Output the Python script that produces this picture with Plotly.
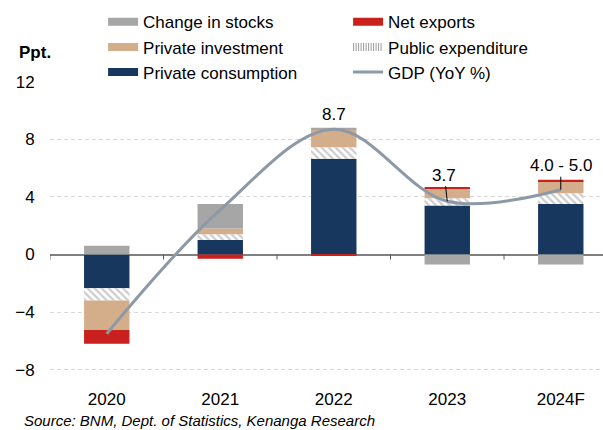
import plotly.graph_objects as go

# contributions to GDP growth, percentage points
years = ["2020", "2021", "2022", "2023", "2024F"]
private_consumption = [-2.35, 1.0, 6.65, 3.4, 3.5]
public_expenditure = [-0.85, 0.4, 0.8, 0.5, 0.75]
private_investment = [-2.05, 0.4, 1.25, 0.65, 0.85]
net_exports = [-0.95, -0.3, -0.05, 0.1, 0.1]
change_in_stocks = [0.6, 1.7, 0.1, -0.7, -0.7]
gdp_yoy = [-5.5, 3.1, 8.7, 3.7, 4.5]
gdp_labels = {"2022": "8.7", "2023": "3.7", "2024F": "4.0 - 5.0"}
y_ticks = [-8, -4, 0, 4, 8, 12]

FONT = "Liberation Sans, Arial, sans-serif"
NAVY = "#17375e"
TAN = "#d4ad8b"
RED = "#c9211e"
GREY = "#a6a6a6"
HATCH = "#9a9a9a"
LINE = "#8c99a6"

fig = go.Figure()

bar_specs = [
    ("Private consumption", private_consumption, dict(color=NAVY)),
    ("Public expenditure", public_expenditure,
     dict(color="white", pattern=dict(shape="\\", fgcolor=HATCH, bgcolor="white",
                                      size=5, solidity=0.45))),
    ("Private investment", private_investment, dict(color=TAN)),
    ("Net exports", net_exports, dict(color=RED)),
    ("Change in stocks", change_in_stocks, dict(color=GREY)),
]
for name, vals, marker in bar_specs:
    marker["line"] = dict(width=0)
    fig.add_trace(go.Bar(x=years, y=vals, name=name, marker=marker,
                         width=0.4, showlegend=False))

fig.add_trace(go.Scatter(
    x=years, y=gdp_yoy, name="GDP (YoY %)", mode="lines",
    line=dict(color=LINE, width=3, shape="spline", smoothing=1),
    legendrank=6,
))

# legend swatches (wide flat bars like the original)
legend_specs = [
    ("Change in stocks", GREY, "solid", 1),
    ("Net exports", RED, "solid", 2),
    ("Private investment", TAN, "solid", 3),
    ("Public expenditure", HATCH, "1px,1.5px", 4),
    ("Private consumption", NAVY, "solid", 5),
]
for name, color, dash, rank in legend_specs:
    fig.add_trace(go.Scatter(x=[None], y=[None], name=name, mode="lines",
                             line=dict(color=color, width=8, dash=dash),
                             legendrank=rank))

# small ticks on the zero line at category boundaries
for i in range(len(years)):
    fig.add_shape(type="line", xref="x", yref="y", x0=i - 0.5, x1=i - 0.5,
                  y0=0, y1=-0.35, line=dict(color="#595959", width=1))

# labels on the GDP line (category index, since the years look numeric)
label_offsets = {"2022": (0, None), "2023": (-3, -26), "2024F": (0, -24)}
for yr, txt in gdp_labels.items():
    i = years.index(yr)
    ax, ay = label_offsets[yr]
    if ay is None:
        fig.add_annotation(x=i, y=gdp_yoy[i], text=txt, showarrow=False,
                           yshift=15, font=dict(size=17, color="black"))
    else:
        fig.add_annotation(x=i, y=gdp_yoy[i], text=txt, showarrow=True,
                           arrowhead=0, arrowwidth=1, arrowcolor="black",
                           ax=ax, ay=ay, font=dict(size=17, color="black"))

fig.add_annotation(xref="paper", yref="paper", x=0, y=1, xshift=-33, yshift=29,
                   xanchor="left", yanchor="middle", text="<b>Ppt.</b>",
                   showarrow=False, font=dict(size=17, color="black"))
fig.add_annotation(xref="paper", yref="paper", x=0, y=0, xshift=-28, yshift=-46,
                   xanchor="left", yanchor="middle",
                   text="<i>Source: BNM, Dept. of Statistics, Kenanga Research</i>",
                   showarrow=False, font=dict(size=15, color="black"))

fig.update_xaxes(type="category", range=[-0.5, 4.372], showgrid=False,
                 zeroline=False, showline=False, ticks="outside", ticklen=10,
                 tickcolor="rgba(0,0,0,0)", tickfont=dict(size=17, color="black"))
fig.update_yaxes(range=[-8.3, 12.05], tickvals=y_ticks, showgrid=True,
                 gridcolor="#d9d9d9", griddash="4px,3px", gridwidth=1,
                 zeroline=True, zerolinecolor="#808080", zerolinewidth=2,
                 ticks="outside", ticklen=11, tickcolor="rgba(0,0,0,0)",
                 tickfont=dict(size=17, color="black"))

fig.update_layout(
    width=603, height=430,
    barmode="relative",
    paper_bgcolor="white", plot_bgcolor="white",
    font=dict(family=FONT, color="black"),
    margin=dict(l=50, r=0, t=81, b=56, autoexpand=False),
    legend=dict(orientation="h", x=0.096, y=1.262, xanchor="left", yanchor="top",
                entrywidth=200, traceorder="normal", font=dict(size=17),
                bgcolor="rgba(0,0,0,0)", itemwidth=30),
    showlegend=True,
)

fig.write_html("out.html", config={"displayModeBar": False},
               post_script="document.body.style.margin='0';")
